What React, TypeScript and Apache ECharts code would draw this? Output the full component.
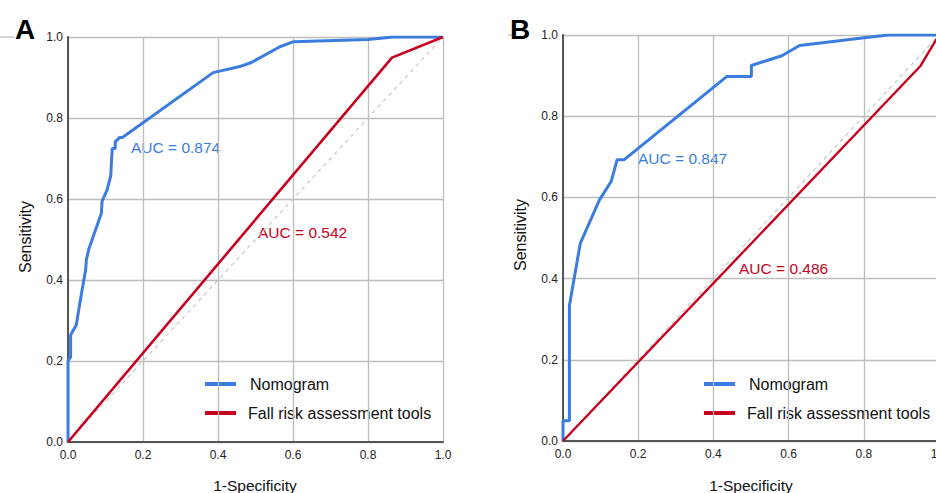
import React, { useEffect, useRef } from "react";
import * as echarts from "echarts";

// Panel A – training
const nomogramA_fpr = [0, 0, 0.007, 0.007, 0.022, 0.036, 0.047, 0.049, 0.056, 0.089, 0.091, 0.104, 0.114, 0.116, 0.118, 0.126, 0.126, 0.138, 0.145, 0.387, 0.458, 0.489, 0.565, 0.6, 0.8, 0.867, 1.0];
const nomogramA_tpr = [0, 0.2, 0.21, 0.264, 0.289, 0.367, 0.425, 0.45, 0.478, 0.565, 0.595, 0.622, 0.657, 0.692, 0.725, 0.725, 0.741, 0.752, 0.752, 0.912, 0.927, 0.937, 0.976, 0.988, 0.994, 1.0, 1.0];
const fallA_fpr = [0, 0.864, 1.0];
const fallA_tpr = [0, 0.949, 1.0];

// Panel B – validation
const nomogramB_fpr = [0, 0, 0.017, 0.017, 0.046, 0.097, 0.128, 0.144, 0.163, 0.436, 0.501, 0.501, 0.582, 0.629, 0.801, 0.866, 1.0];
const nomogramB_tpr = [0, 0.05, 0.05, 0.333, 0.487, 0.594, 0.639, 0.693, 0.693, 0.898, 0.898, 0.925, 0.949, 0.974, 0.993, 1.0, 1.0];
const fallB_fpr = [0, 0.95, 1.0];
const fallB_tpr = [0, 0.923, 1.0];

const diagonal = [0, 1];

const aucLabels = ["AUC = 0.874", "AUC = 0.542", "AUC = 0.847", "AUC = 0.486"];
const seriesNames = ["Nomogram", "Fall risk assessment tools"];
const panelLetters = ["A", "B"];
const axisTitles = ["1-Specificity", "Sensitivity"];

const BLUE = "#3b7ddf";
const RED = "#c8001e";
const FONT = "Liberation Sans, Arial, Helvetica, sans-serif";

const pairs = (xs: number[], ys: number[]) => xs.map((x, i) => [x, ys[i]]);

export default function App() {
  const ref = useRef<HTMLDivElement>(null);
  useEffect(() => {
    if (!ref.current) return;
    const chart = echarts.init(ref.current, null, { renderer: "svg" });

    const grids = [
      { left: 68, top: 37, width: 375, height: 405, outerBoundsMode: "none", containLabel: false },
      { left: 563, top: 35, width: 376, height: 406, outerBoundsMode: "none", containLabel: false },
    ];

    const mkAxis = (gridIndex: number, isX: boolean) => ({
      type: "value",
      gridIndex,
      min: 0,
      max: 1,
      interval: 0.2,
      axisLine: { show: true, onZero: false, lineStyle: { color: "#555", width: 2 } },
      axisTick: { show: false },
      axisLabel: {
        color: "#222",
        fontSize: 12,
        fontFamily: FONT,
        margin: isX ? 7 : 5,
        formatter: (v: number) => v.toFixed(1),
      },
      splitLine: { show: true, lineStyle: { color: "#bdbdbd", width: 1.3 } },
    });

    const lineSeries = (name: string, data: number[][], color: string, idx: number, width: number, z: number) => ({
      type: "line",
      name,
      xAxisIndex: idx,
      yAxisIndex: idx,
      data,
      showSymbol: false,
      symbol: "none",
      lineStyle: { color, width },
      itemStyle: { color },
      z,
    });

    const diagSeries = (idx: number) => ({
      type: "line",
      xAxisIndex: idx,
      yAxisIndex: idx,
      data: pairs(diagonal, diagonal),
      showSymbol: false,
      symbol: "none",
      lineStyle: { color: "#c8c8c8", width: 1.2, type: [4, 4] },
      silent: true,
      z: 1,
    });

    const text = (t: string, x: number, y: number, size: number, color: string, extra: any = {}) => ({
      type: "text",
      x,
      y,
      silent: true,
      style: {
        text: t,
        fill: color,
        font: `${extra.weight || "normal"} ${size}px ${FONT}`,
        align: extra.align || "left",
        verticalAlign: "middle",
      },
      ...(extra.rotation !== undefined ? { rotation: extra.rotation } : {}),
    });

    const legendBlock = (x0: number) => [
      { type: "line", shape: { x1: x0, y1: 384, x2: x0 + 31, y2: 384 }, style: { stroke: BLUE, lineWidth: 4 } },
      { type: "line", shape: { x1: x0, y1: 413, x2: x0 + 31, y2: 413 }, style: { stroke: RED, lineWidth: 4 } },
      text(seriesNames[0], x0 + 45, 384, 16, "#111"),
      text(seriesNames[1], x0 + 43, 413, 16, "#111"),
    ];

    chart.setOption({
      animation: false,
      backgroundColor: "#ffffff",
      grid: grids,
      xAxis: [mkAxis(0, true), mkAxis(1, true)],
      yAxis: [mkAxis(0, false), mkAxis(1, false)],
      series: [
        diagSeries(0),
        lineSeries(seriesNames[0], pairs(nomogramA_fpr, nomogramA_tpr), BLUE, 0, 3, 3),
        lineSeries(seriesNames[1], pairs(fallA_fpr, fallA_tpr), RED, 0, 2.6, 4),
        diagSeries(1),
        lineSeries(seriesNames[0], pairs(nomogramB_fpr, nomogramB_tpr), BLUE, 1, 3, 3),
        lineSeries(seriesNames[1], pairs(fallB_fpr, fallB_tpr), RED, 1, 2.4, 4),
      ],
      graphic: [
        { type: "line", shape: { x1: 0, y1: 37, x2: 15, y2: 37 }, style: { stroke: "#bdbdbd", lineWidth: 1.3 } },
        { type: "line", shape: { x1: 508, y1: 35, x2: 512, y2: 35 }, style: { stroke: "#bdbdbd", lineWidth: 1.3 } },
        text(panelLetters[0], 15, 29, 28, "#000", { weight: "bold" }),
        text(panelLetters[1], 510, 29, 28, "#000", { weight: "bold" }),
        text(axisTitles[0], 255, 485, 15.5, "#111", { align: "center" }),
        text(axisTitles[0], 751, 485, 15.5, "#111", { align: "center" }),
        text(axisTitles[1], 25, 237, 16, "#111", { align: "center", rotation: Math.PI / 2 }),
        text(axisTitles[1], 520, 235, 16, "#111", { align: "center", rotation: Math.PI / 2 }),
        text(aucLabels[0], 131, 147, 15.5, BLUE),
        text(aucLabels[1], 258, 232, 15.5, RED),
        text(aucLabels[2], 638, 158, 15.5, BLUE),
        text(aucLabels[3], 739, 268, 15.5, RED),
        ...legendBlock(205),
        ...legendBlock(704),
      ],
    });
    return () => chart.dispose();
  }, []);

  return (
    <div
      ref={ref}
      style={{ position: "fixed", left: 0, top: 0, width: 936, height: 493, background: "#fff" }}
    />
  );
}
